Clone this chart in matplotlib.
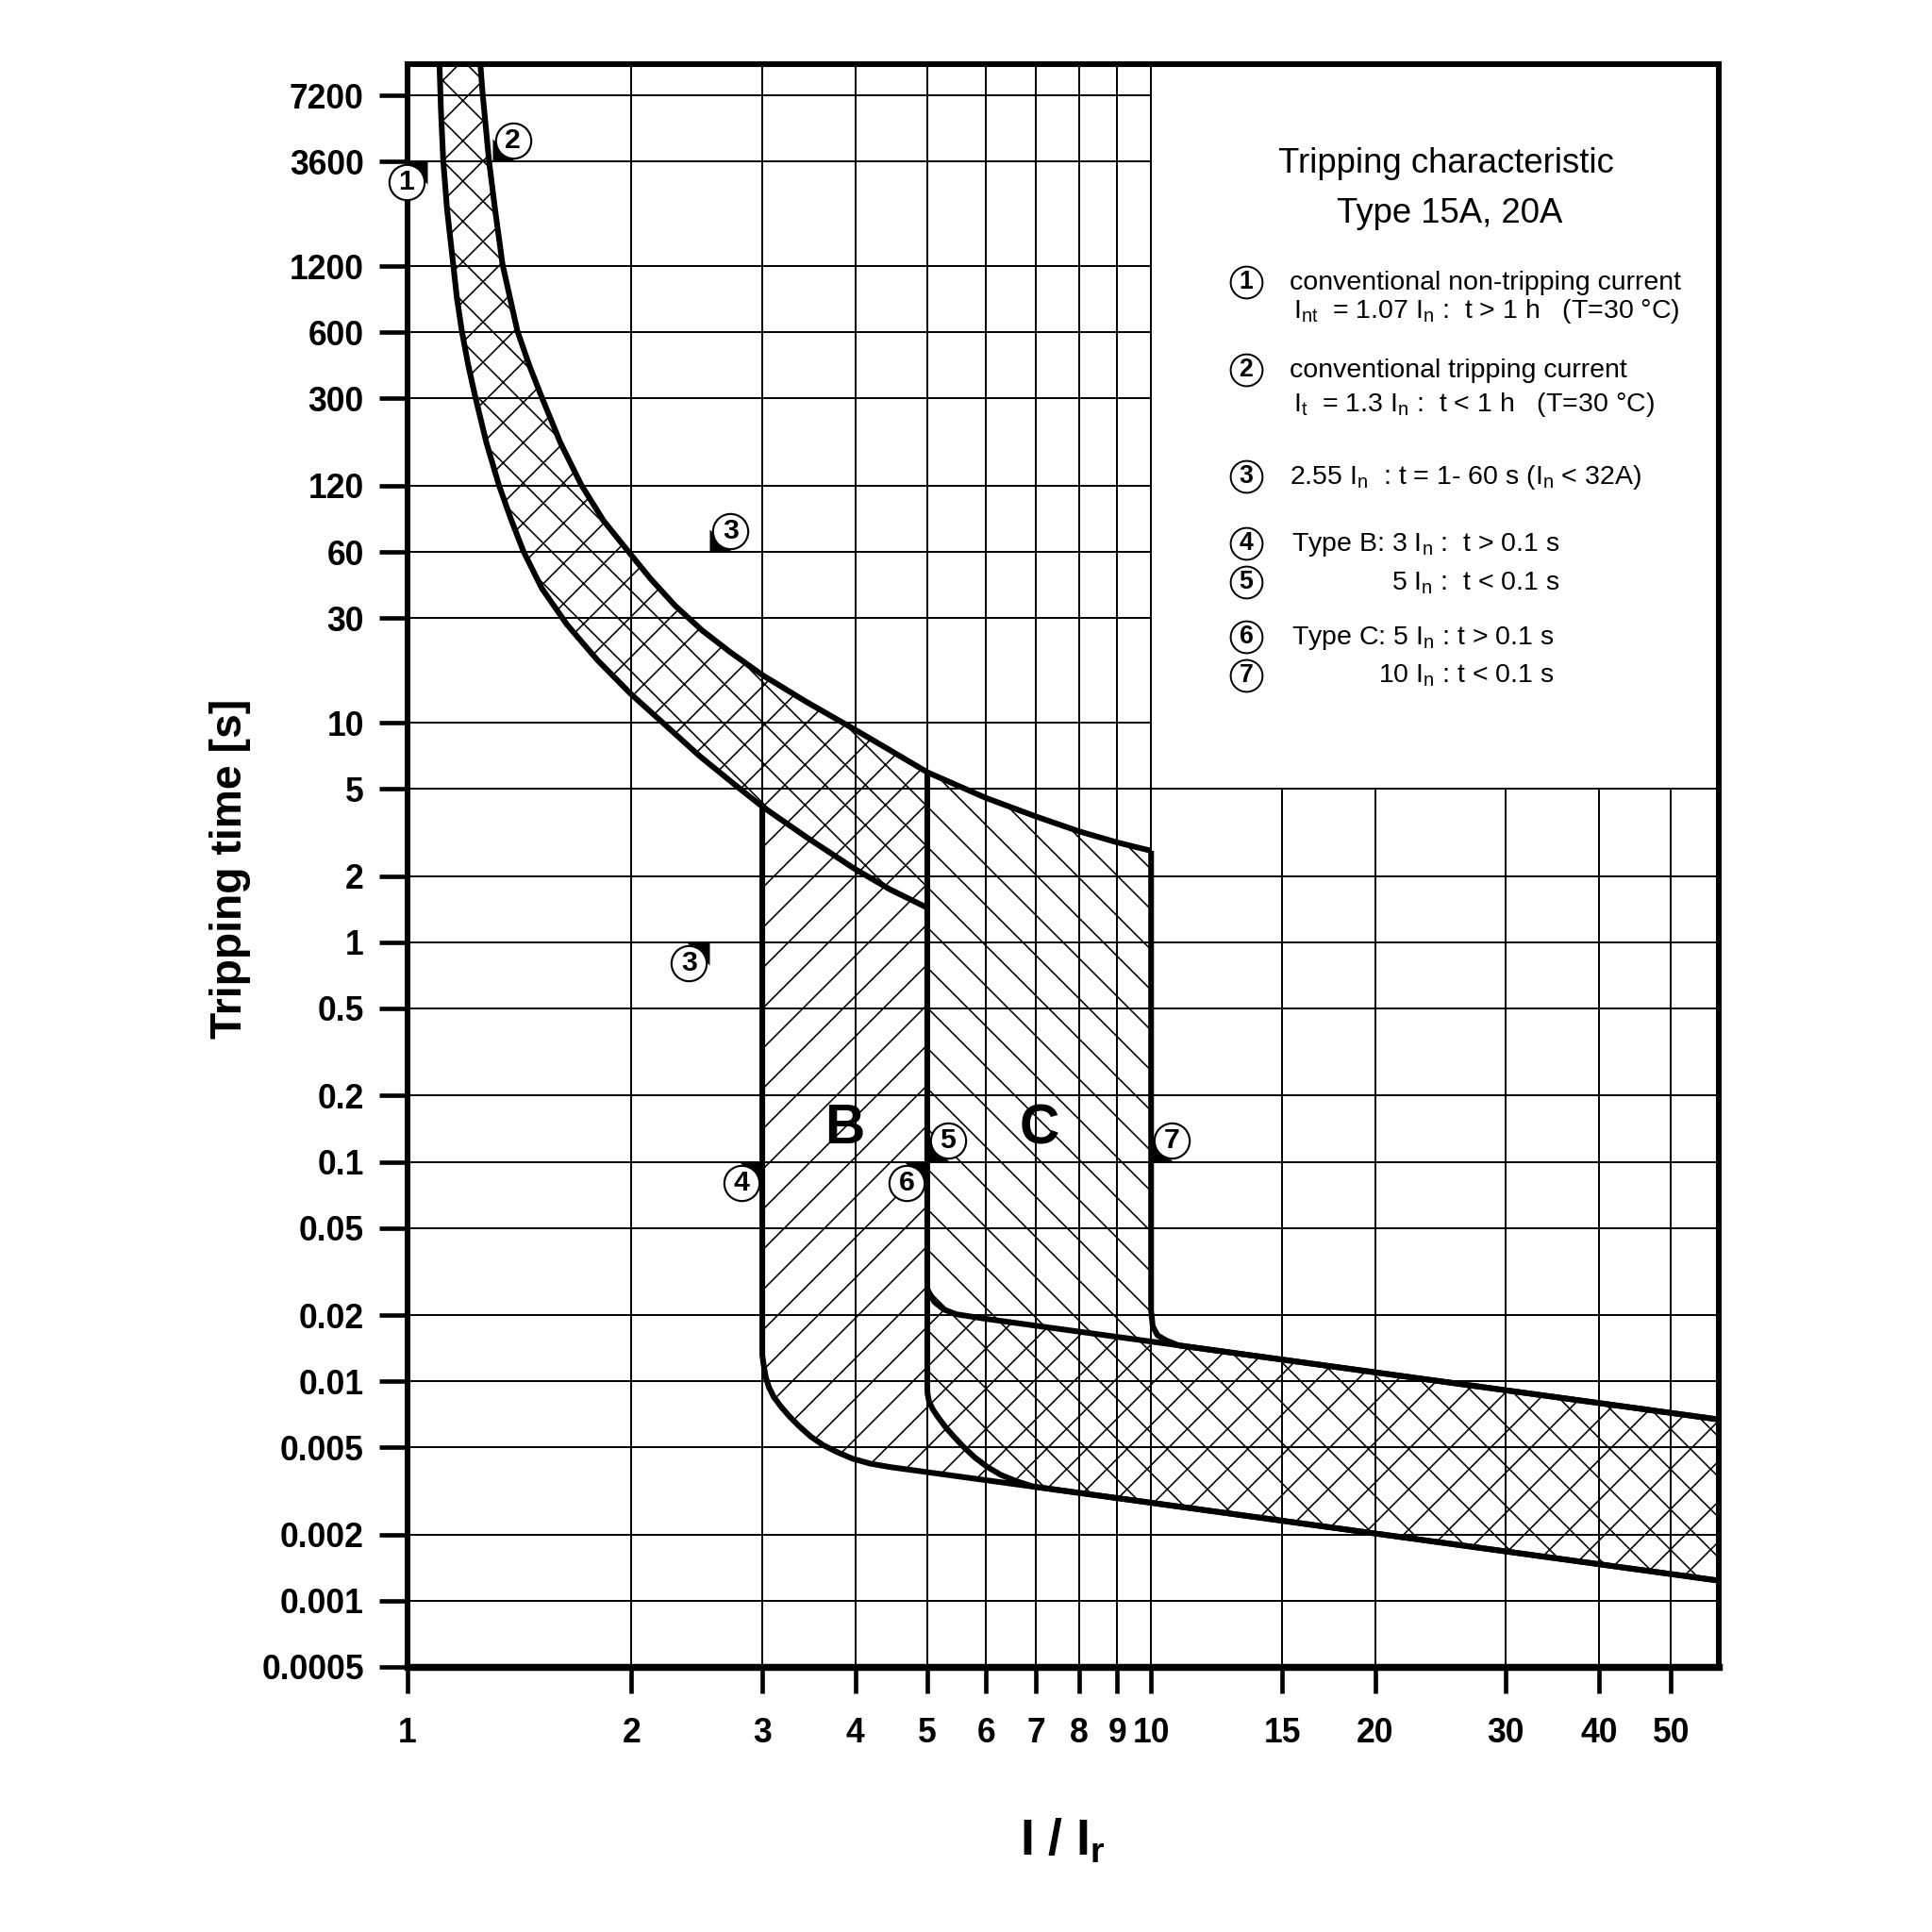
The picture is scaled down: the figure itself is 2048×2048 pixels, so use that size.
import matplotlib
matplotlib.use("Agg")
import matplotlib.pyplot as plt
from matplotlib.transforms import offset_copy

plt.rcParams['font.family'] = ['Liberation Sans', 'DejaVu Sans']
plt.rcParams['mathtext.default'] = 'regular'
plt.rcParams['hatch.linewidth'] = 0.9

# axes
x_ticks = [1, 2, 3, 4, 5, 6, 7, 8, 9, 10, 15, 20, 30, 40, 50]
y_ticks = [0.0005, 0.001, 0.002, 0.005, 0.01, 0.02, 0.05, 0.1, 0.2, 0.5,
           1, 2, 5, 10, 30, 60, 120, 300, 600, 1200, 3600, 7200]
y_labels = ['0.0005', '0.001', '0.002', '0.005', '0.01', '0.02', '0.05', '0.1',
            '0.2', '0.5', '1', '2', '5', '10', '30', '60', '120', '300', '600',
            '1200', '3600', '7200']
x_lim = (1, 58)
y_lim = (0.0005, 10000)
# no grid in the legend corner (I/In > 10 and t > 5 s)
box_x, box_t = 10, 5

# thermal release: lower limit (non-tripping) and upper limit (tripping)
therm_lo_x = [1.104, 1.109, 1.117, 1.130, 1.152, 1.165, 1.183, 1.206, 1.234, 1.277,
              1.327, 1.378, 1.432, 1.516, 1.637, 1.800, 2.0, 2.205, 2.472, 2.793,
              3.0, 3.445, 3.984, 4.451, 5.0]
therm_lo_t = [10000, 6166, 3628, 2192, 1225, 864, 610, 430, 303, 188,
              121, 84.3, 60.3, 40.9, 28.1, 19.3, 13.45, 9.99, 7.04, 5.03,
              4.15, 3.0, 2.17, 1.743, 1.436]
therm_hi_x = [1.253, 1.262, 1.287, 1.311, 1.342, 1.405, 1.460, 1.516, 1.606, 1.713,
              1.835, 1.981, 2.122, 2.291, 2.491, 2.720, 3.0, 3.445, 3.984, 4.451,
              5.0, 6.0, 7.0, 8.0, 9.0, 10.0]
therm_hi_t = [10000, 7295, 3628, 2192, 1225, 610, 419, 303, 188, 121,
              83.2, 60.3, 45.3, 34.1, 26.3, 20.9, 16.5, 12.4, 9.36, 7.51,
              5.95, 4.54, 3.74, 3.2, 2.85, 2.61]

# magnetic release, type B: 3 In (lower) and 5 In (upper, joins common upper line)
b_lo_x = [3.0, 3.0, 3.016, 3.033, 3.062, 3.109, 3.181, 3.267, 3.368, 3.486,
          3.622, 3.777, 3.969, 4.187, 4.451, 58]
b_lo_t = [4.15, 0.01315, 0.01156, 0.01042, 0.0094, 0.00847, 0.00764, 0.00689, 0.00621, 0.0056,
          0.00512, 0.00477, 0.00444, 0.00422, 0.00407, 0.001236]
b_hi_x = [5.0, 5.0, 5.11, 5.26, 5.47, 6.03, 58]
b_hi_t = [1.436, 0.0263, 0.0230, 0.02125, 0.0202, 0.0192, 0.0067]

# magnetic release, type C: 5 In (lower) and 10 In (upper)
c_lo_x = [5.0, 5.0, 5.003, 5.029, 5.087, 5.166, 5.285, 5.429, 5.597, 5.792,
          6.018, 6.276, 6.570, 6.931, 58]
c_lo_t = [5.95, 0.00965, 0.00881, 0.00805, 0.00745, 0.00689, 0.00621, 0.0056, 0.00502, 0.0045,
          0.00408, 0.00375, 0.00352, 0.00332, 0.001236]
c_hi_x = [10.0, 10.0, 10.05, 10.2, 10.5, 10.9, 58]
c_hi_t = [2.61, 0.021, 0.0178, 0.0162, 0.0153, 0.01456, 0.0067]

# numbered marks on the curves
flag_x = [1.062, 1.30, 2.55, 2.55, 3.0, 5.0, 5.0, 10.0]
flag_t = [3600, 3600, 60, 1, 0.1, 0.1, 0.1, 0.1]
flag_num = ['1', '2', '3', '3', '4', '5', '6', '7']
flag_dir = ['ld', 'ru', 'ru', 'ld', 'ld', 'ru', 'ld', 'ru']

# band letters
band_names = ['B', 'C']
band_x = [3.865, 7.08]
band_t = [0.141, 0.141]

title_lines = ['Tripping characteristic', 'Type 15A, 20A']
legend_nums = ['1', '', '2', '', '3', '4', '5', '6', '7']
legend_texts = [
    'conventional non-tripping current',
    r'$I_{nt}$  = 1.07 $I_n$ :  t > 1 h   (T=30 °C)',
    'conventional tripping current',
    r'$I_t$  = 1.3 $I_n$ :  t < 1 h   (T=30 °C)',
    r'2.55 $I_n$  : t = 1- 60 s ($I_n$ < 32A)',
    r'Type B: 3 $I_n$ :  t > 0.1 s',
    r'5 $I_n$ :  t < 0.1 s',
    r'Type C: 5 $I_n$ : t > 0.1 s',
    r'10 $I_n$ : t < 0.1 s',
]

W = 2048.0


def fx(px):
    return px / W


def fy(py):
    return 1 - py / W


fig = plt.figure(figsize=(16, 16), dpi=128)
ax = fig.add_axes([fx(432), fy(1767), fx(1822) - fx(432), fy(68) - fy(1767)])
ax.set_xscale('log')
ax.set_yscale('log')
ax.set_xlim(*x_lim)
ax.set_ylim(*y_lim)

# grid, drawn by hand so that the legend corner stays empty
for v in x_ticks[1:]:
    top = y_lim[1] if v <= box_x else box_t
    ax.vlines(v, y_lim[0], top, color='black', lw=1.1, zorder=1)
for v in y_ticks[1:]:
    right = x_lim[1] if v <= box_t else box_x
    ax.hlines(v, x_lim[0], right, color='black', lw=1.1, zorder=1)

# hatched areas
therm_poly_x = therm_lo_x + [x for x in therm_hi_x if x <= 5][::-1]
therm_poly_t = therm_lo_t + [t for x, t in zip(therm_hi_x, therm_hi_t) if x <= 5][::-1]
ax.fill(therm_poly_x, therm_poly_t, facecolor='white', edgecolor='black', lw=0,
        hatch='x', zorder=0.5)

mid_lo = [(x, t) for x, t in zip(therm_lo_x, therm_lo_t) if 3 < x < 5][::-1]
b_poly_x = b_lo_x + b_hi_x[::-1] + [p[0] for p in mid_lo]
b_poly_t = b_lo_t + b_hi_t[::-1] + [p[1] for p in mid_lo]
ax.fill(b_poly_x, b_poly_t, facecolor='none', edgecolor='black', lw=0,
        hatch='/', zorder=0.6)

mid_hi = [(x, t) for x, t in zip(therm_hi_x, therm_hi_t) if 5 < x < 10][::-1]
c_poly_x = c_lo_x + c_hi_x[::-1] + [p[0] for p in mid_hi]
c_poly_t = c_lo_t + c_hi_t[::-1] + [p[1] for p in mid_hi]
ax.fill(c_poly_x, c_poly_t, facecolor='none', edgecolor='black', lw=0,
        hatch='\\', zorder=0.6)

# curves
curve_kw = dict(color='black', lw=3.4, solid_capstyle='butt',
                solid_joinstyle='round', zorder=3)
ax.plot(therm_lo_x, therm_lo_t, **curve_kw)
ax.plot(therm_hi_x, therm_hi_t, **curve_kw)
ax.plot(b_lo_x, b_lo_t, **curve_kw)
ax.plot(b_hi_x, b_hi_t, **curve_kw)
ax.plot(c_lo_x, c_lo_t, **curve_kw)
ax.plot(c_hi_x, c_hi_t, **curve_kw)

# numbered flags
tri = {'ru': [(0, 0), (1, 0), (0, 1), (0, 0)],
       'ld': [(0, 0), (-1, 0), (0, -1), (0, 0)]}
off = 12.4
for x, t, n, d in zip(flag_x, flag_t, flag_num, flag_dir):
    ax.plot(x, t, marker=tri[d], ms=27, color='black', mew=0, zorder=4, clip_on=False)
    s = 1 if d == 'ru' else -1
    tr = offset_copy(ax.transData, fig=fig, x=s * off, y=s * off, units='points')
    ax.plot(x, t, 'o', ms=21, mfc='white', mec='black', mew=1.2, transform=tr,
            zorder=5, clip_on=False)
    ax.text(x, t, n, transform=tr, ha='center', va='center', fontsize=17,
            fontweight='bold', zorder=6,
            family=['Liberation Sans Narrow', 'Liberation Sans', 'DejaVu Sans'])

for name, x, t in zip(band_names, band_x, band_t):
    ax.text(x, t, name, ha='center', va='center', fontsize=33, fontweight='bold',
            zorder=6)

# axes frame and ticks
for side in ['left', 'right', 'top']:
    ax.spines[side].set_linewidth(3.4)
ax.spines['bottom'].set_linewidth(4.2)
ax.set_xticks(x_ticks, labels=[str(v) for v in x_ticks])
ax.set_yticks(y_ticks, labels=y_labels)
ax.minorticks_off()
ax.tick_params(axis='both', direction='out', width=2.6, colors='black')
ax.tick_params(axis='y', length=17, pad=9, labelsize=20)
ax.tick_params(axis='x', length=16, pad=14, labelsize=20)
for lab in ax.get_xticklabels() + ax.get_yticklabels():
    lab.set_fontweight('bold')

fig.text(fx(244), fy(921), 'Tripping time [s]', rotation=90, ha='center',
         va='center', fontsize=26, fontweight='bold')
fig.text(fx(1126), fy(1952), r'I / $I_r$', ha='center', va='center',
         fontsize=30, fontweight='bold')

# legend block
fig.text(fx(1533), fy(183), title_lines[0], ha='center', va='baseline', fontsize=20.5)
fig.text(fx(1537), fy(236), title_lines[1], ha='center', va='baseline', fontsize=20.5)

leg_base = [307, 337, 400, 436, 513, 584, 625, 683, 724]
leg_left = [1367, 1371, 1367, 1371, 1367, 1369, 1475, 1369, 1461]
for num, txt, yb, xl in zip(legend_nums, legend_texts, leg_base, leg_left):
    fig.text(fx(xl), fy(yb), txt, ha='left', va='baseline', fontsize=16)
    if num:
        cy = yb - 8
        fig.add_artist(plt.Line2D([fx(1321)], [fy(cy)], marker='o', ms=19,
                                  mfc='white', mec='black', mew=1.1,
                                  transform=fig.transFigure))
        fig.text(fx(1321), fy(cy), num, ha='center', va='center', fontsize=15,
                 fontweight='bold',
                 family=['Liberation Sans Narrow', 'Liberation Sans', 'DejaVu Sans'])

fig.savefig('out.png', dpi=128)
